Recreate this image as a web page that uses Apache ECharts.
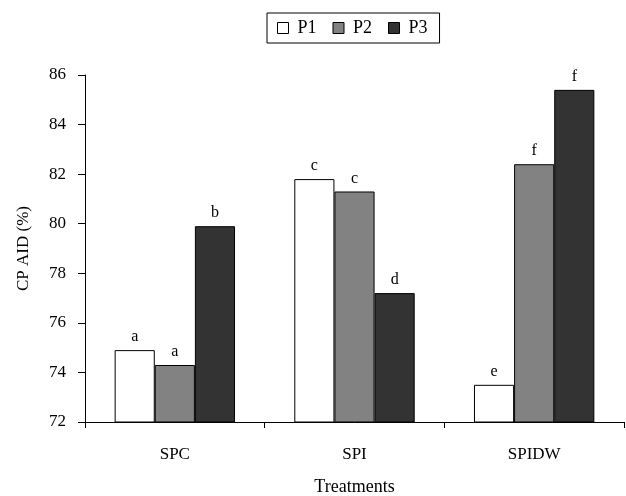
<!DOCTYPE html>
<html><head><meta charset="utf-8">
<script src="https://cdn.jsdelivr.net/npm/echarts@6/dist/echarts.min.js"></script>
<style>html,body{margin:0;padding:0;background:#fff}#c{width:626px;height:496px}</style>
</head><body><div id="c"></div>
<script>
const categories = ['SPC', 'SPI', 'SPIDW'];
const seriesNames = ['P1', 'P2', 'P3'];
const p1 = [74.9, 81.8, 73.5];
const p2 = [74.3, 81.3, 82.4];
const p3 = [79.9, 77.2, 85.4];
const p1Letters = ['a', 'c', 'e'];
const p2Letters = ['a', 'c', 'f'];
const p3Letters = ['b', 'd', 'f'];
const yTicks = [72, 74, 76, 78, 80, 82, 84, 86];

const font = '"Liberation Serif", "DejaVu Serif", serif';
const colors = ['#ffffff', '#828282', '#333333'];
const vals = [p1, p2, p3];
const letters = [p1Letters, p2Letters, p3Letters];

const chart = echarts.init(document.getElementById('c'));
chart.setOption({
  animation: false,
  legend: {
    top: 13,
    left: 267,
    padding: [6, 12, 6, 10],
    borderColor: '#000',
    borderWidth: 1,
    itemWidth: 11,
    itemHeight: 11,
    itemGap: 16,
    icon: 'rect',
    textStyle: { fontFamily: font, fontSize: 18, color: '#000', padding: [0, 0, 0, 4] },
    data: seriesNames.map((n, i) => ({ name: n, itemStyle: { color: colors[i], borderColor: '#000', borderWidth: 1 } }))
  },
  grid: { left: 85, right: 2, top: 75, bottom: 74, containLabel: false, outerBoundsMode: 'none' },
  xAxis: {
    type: 'category',
    data: categories,
    name: 'Treatments',
    nameLocation: 'middle',
    nameGap: 56,
    nameTextStyle: { fontFamily: font, fontSize: 18, color: '#000' },
    axisLine: { lineStyle: { color: '#000', width: 1 } },
    axisTick: { show: true, length: 6, inside: false, lineStyle: { color: '#000' } },
    axisLabel: { fontFamily: font, fontSize: 17, color: '#000', margin: 24 }
  },
  yAxis: {
    type: 'value',
    min: yTicks[0],
    max: yTicks[yTicks.length - 1],
    interval: 2,
    name: 'CP AID (%)',
    nameLocation: 'middle',
    nameGap: 53,
    nameTextStyle: { fontFamily: font, fontSize: 17, color: '#000' },
    axisLine: { show: true, lineStyle: { color: '#000', width: 1 } },
    axisTick: { show: true, length: 7, lineStyle: { color: '#000' } },
    axisLabel: { fontFamily: font, fontSize: 17, color: '#000', margin: 19 },
    splitLine: { show: false }
  },
  series: seriesNames.map((n, i) => ({
    name: n,
    type: 'bar',
    data: vals[i],
    barGap: '0%',
    barCategoryGap: '33%',
    itemStyle: { color: colors[i], borderColor: '#000', borderWidth: 1 },
    label: {
      show: true,
      position: 'top',
      distance: 5,
      fontFamily: font,
      fontSize: 16,
      color: '#000',
      formatter: p => letters[i][p.dataIndex]
    }
  }))
});
</script></body></html>
